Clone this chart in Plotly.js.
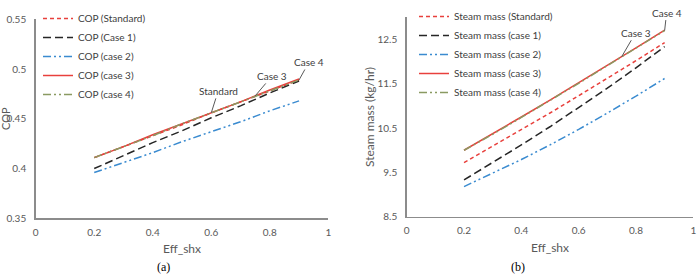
<!DOCTYPE html>
<html>
<head>
<meta charset="utf-8">
<script src="https://cdn.plot.ly/plotly-3.0.1.min.js"></script>
<style>html,body{margin:0;padding:0;background:#fff;}#chart{width:697px;height:274px;}</style>
</head>
<body>
<div id="chart"></div>
<script>
// Shared x values
const effShx = [0.2, 0.3, 0.4, 0.5, 0.6, 0.7, 0.8, 0.9];

// (a) COP
const copStandard = [0.411, 0.422, 0.433, 0.444, 0.456, 0.467, 0.478, 0.489];
const copCase1    = [0.400, 0.413, 0.426, 0.438, 0.451, 0.463, 0.476, 0.488];
const copCase2    = [0.396, 0.406, 0.416, 0.427, 0.437, 0.447, 0.458, 0.468];
const copCase3    = [0.411, 0.422, 0.434, 0.445, 0.456, 0.467, 0.479, 0.490];
const copCase4    = [0.411, 0.422, 0.433, 0.445, 0.456, 0.467, 0.478, 0.489];

// (b) Steam mass (kg/hr)
const steamStandard = [9.72, 10.09, 10.46, 10.84, 11.23, 11.62, 12.02, 12.43];
const steamCase1    = [9.33, 9.72, 10.12, 10.53, 10.96, 11.40, 11.86, 12.34];
const steamCase2    = [9.18, 9.48, 9.79, 10.12, 10.47, 10.84, 11.22, 11.62];
const steamCase3    = [10.00, 10.37, 10.75, 11.13, 11.52, 11.91, 12.31, 12.71];
const steamCase4    = [10.00, 10.36, 10.74, 11.12, 11.51, 11.91, 12.31, 12.70];

const copNames = ['COP (Standard)', 'COP (Case 1)', 'COP (case 2)', 'COP (case 3)', 'COP (case 4)'];
const steamNames = ['Steam mass (Standard)', 'Steam mass (case 1)', 'Steam mass (case 2)', 'Steam mass (case 3)', 'Steam mass (case 4)'];
const steamTicks = [8.5, 9.5, 10.5, 11.5, 12.5];

const styles = [
  {color: '#e8403c', dash: '4px,3px', width: 1.5},
  {color: '#262626', dash: '8px,4px', width: 1.5},
  {color: '#3a8bd0', dash: '8px,3px,2px,3px,2px,3px', width: 1.5},
  {color: '#e8403c', dash: 'solid', width: 1.5},
  {color: '#8a9a62', dash: '8px,3px,2px,3px,2px,3px', width: 1.5}
];

const copSeries = [copStandard, copCase1, copCase2, copCase3, copCase4];
const steamSeries = [steamStandard, steamCase1, steamCase2, steamCase3, steamCase4];

const traces = [];
copSeries.forEach((ys, i) => traces.push({
  x: effShx, y: ys, name: copNames[i], type: 'scatter', mode: 'lines',
  line: styles[i], xaxis: 'x', yaxis: 'y', legend: 'legend'
}));
steamSeries.forEach((ys, i) => traces.push({
  x: effShx, y: ys, name: steamNames[i], type: 'scatter', mode: 'lines',
  line: styles[i], xaxis: 'x2', yaxis: 'y2', legend: 'legend2'
}));

const W = 697, H = 274;
const tickFont = {family: 'Lato, "Liberation Sans", sans-serif', size: 10, color: '#595959'};
const titleFont = {family: 'Lato, "Liberation Sans", sans-serif', size: 12, color: '#595959'};
const legFont = {family: 'Lato, "Liberation Sans", sans-serif', size: 10, color: '#404040'};
const annFont = {family: 'Lato, "Liberation Sans", sans-serif', size: 10, color: '#404040'};

function xAxis(domain, anchor) {
  return {
    domain: domain, anchor: anchor, range: [0, 1], dtick: 0.2, tick0: 0,
    showgrid: false, zeroline: false, showline: true, linecolor: '#8c8c8c', linewidth: 1.5,
    ticks: 'outside', ticklen: 4, tickcolor: 'rgba(0,0,0,0)', tickfont: tickFont,
    title: {text: 'Eff_shx', font: titleFont, standoff: 8}, automargin: false, fixedrange: true
  };
}

const layout = {
  width: W, height: H,
  margin: {l: 0, r: 0, t: 0, b: 0},
  paper_bgcolor: '#fff', plot_bgcolor: '#fff',
  showlegend: true,
  xaxis: xAxis([35.7 / W, 328.3 / W], 'y'),
  xaxis2: xAxis([406.7 / W, 693.3 / W], 'y2'),
  yaxis: {
    domain: [(H - 218.3) / H, (H - 19.3) / H], anchor: 'x', range: [0.35, 0.55], dtick: 0.05, tick0: 0.35,
    showgrid: false, zeroline: false, showline: true, linecolor: '#8c8c8c', linewidth: 1.5,
    ticks: 'outside', ticklen: 6, tickcolor: 'rgba(0,0,0,0)', tickfont: tickFont,
    automargin: false, fixedrange: true
  },
  yaxis2: {
    domain: [(H - 216.7) / H, (H - 17.3) / H], anchor: 'x2', range: [8.5, 13.0],
    tickmode: 'array', tickvals: steamTicks, ticktext: steamTicks.map(v => v.toFixed(1)),
    showgrid: false, zeroline: false, showline: true, linecolor: '#8c8c8c', linewidth: 1.5,
    ticks: 'outside', ticklen: 6, tickcolor: 'rgba(0,0,0,0)', tickfont: tickFont,
    title: {text: 'Steam mass (kg/hr)', font: titleFont, standoff: 0}, automargin: false, fixedrange: true
  },
  legend: {x: 38 / W, y: 1 - 4 / H, xanchor: 'left', yanchor: 'top', bgcolor: 'rgba(0,0,0,0)',
           font: legFont, itemwidth: 30, tracegroupgap: 0},
  legend2: {x: 414 / W, y: 1 - 2 / H, xanchor: 'left', yanchor: 'top', bgcolor: 'rgba(0,0,0,0)',
            font: legFont, itemwidth: 30, tracegroupgap: 0},
  annotations: [
    // left y-axis title, at the far left edge as in the reference
    {xref: 'paper', yref: 'paper', x: 6 / W, y: (H - 119) / H, xanchor: 'center', yanchor: 'middle',
     text: 'COP', textangle: -90, showarrow: false, borderpad: 0,
     font: {family: titleFont.family, size: 11, color: '#595959'}},
    {xref: 'x', yref: 'y', x: effShx[4], y: copStandard[4], text: 'Standard', showarrow: true,
     arrowhead: 0, arrowwidth: 1, arrowcolor: '#595959', ax: 7, ay: -22, font: annFont},
    {xref: 'x', yref: 'y', x: (effShx[5] + effShx[6]) / 2, y: (copCase3[5] + copCase3[6]) / 2, text: 'Case 3', showarrow: true,
     arrowhead: 0, arrowwidth: 1, arrowcolor: '#595959', ax: 17, ay: -20, font: annFont},
    {xref: 'x', yref: 'y', x: effShx[7], y: copCase4[7], text: 'Case 4', showarrow: true,
     arrowhead: 0, arrowwidth: 1, arrowcolor: '#595959', ax: 10, ay: -18, font: annFont},
    {xref: 'x2', yref: 'y2', x: (effShx[5] + effShx[6]) / 2, y: (steamCase3[5] + steamCase3[6]) / 2, text: 'Case 3', showarrow: true,
     arrowhead: 0, arrowwidth: 1, arrowcolor: '#595959', ax: 14, ay: -24, font: annFont},
    {xref: 'x2', yref: 'y2', x: effShx[7], y: steamCase4[7], text: 'Case 4', showarrow: true,
     arrowhead: 0, arrowwidth: 1, arrowcolor: '#595959', ax: 2, ay: -18, font: annFont},
    {xref: 'paper', yref: 'paper', x: 163 / W, y: (H - 267) / H, xanchor: 'center', yanchor: 'middle',
     text: '(a)', showarrow: false,
     font: {family: '"Liberation Serif", "DejaVu Serif", serif', size: 12, color: '#000'}},
    {xref: 'paper', yref: 'paper', x: 518 / W, y: (H - 267) / H, xanchor: 'center', yanchor: 'middle',
     text: '(b)', showarrow: false,
     font: {family: '"Liberation Serif", "DejaVu Serif", serif', size: 12, color: '#000'}}
  ]
};

Plotly.newPlot('chart', traces, layout, {displayModeBar: false, staticPlot: true});
</script>
</body>
</html>
